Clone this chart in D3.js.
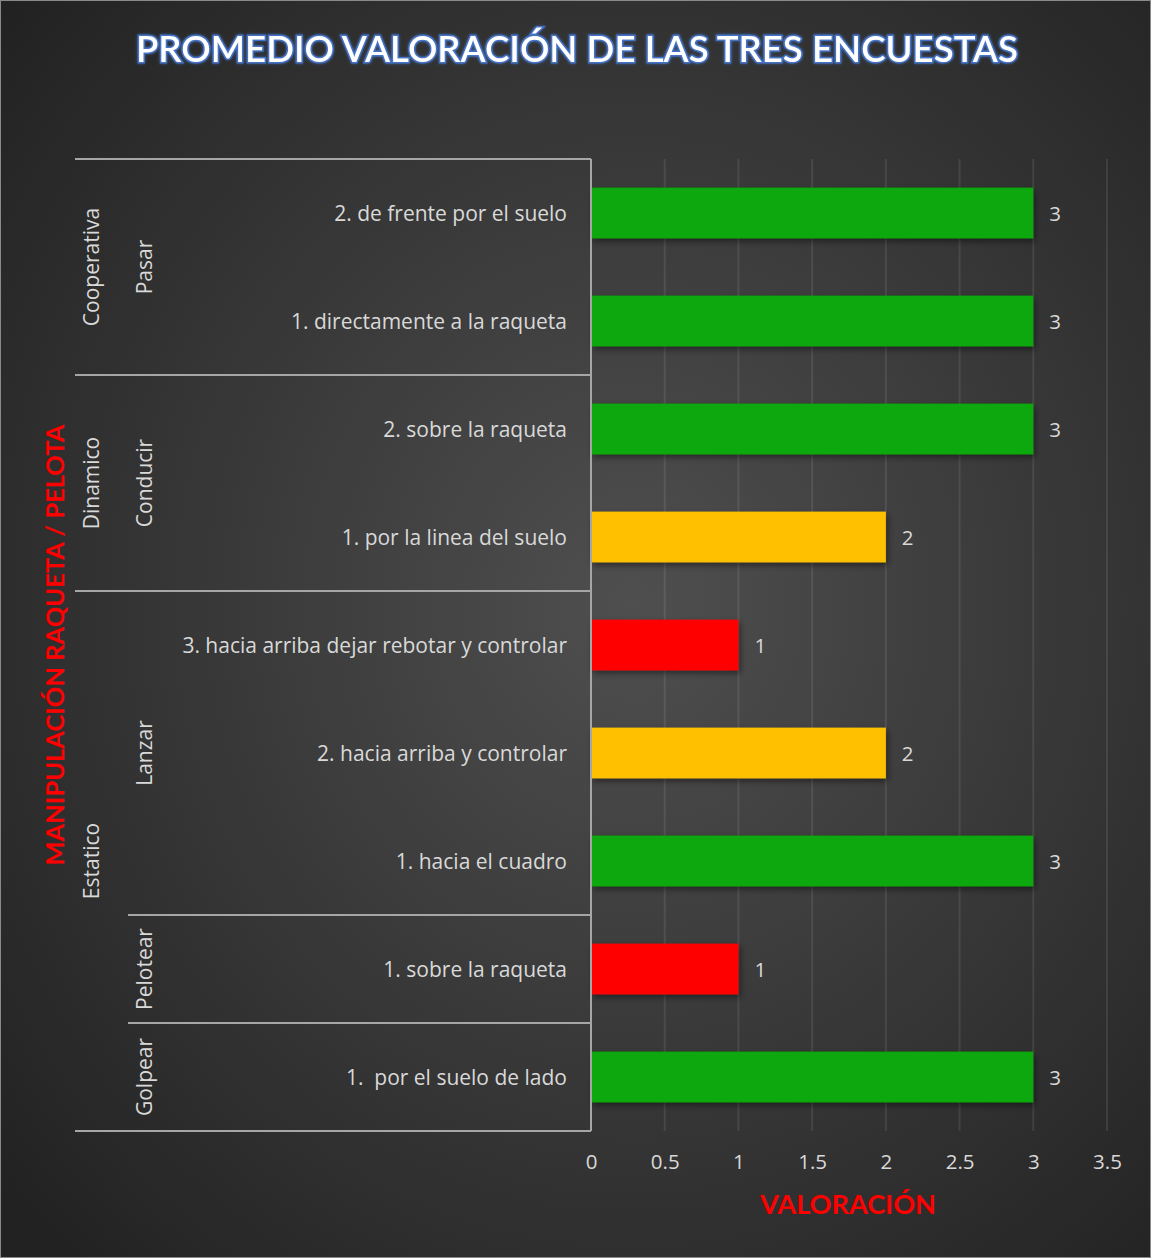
<!DOCTYPE html>
<html><head><meta charset="utf-8">
<script src="https://cdn.jsdelivr.net/npm/d3@7"></script>
<style>body{margin:0;background:#222}svg{display:block}text{white-space:pre}</style>
</head><body>
<script>
const title = "PROMEDIO VALORACIÓN DE LAS TRES ENCUESTAS";
const xTitle = "VALORACIÓN";
const yTitle = "MANIPULACIÓN RAQUETA / PELOTA";
const items = ["2. de frente por el suelo", "1. directamente a la raqueta", "2. sobre la raqueta", "1. por la linea del suelo", "3. hacia arriba dejar rebotar y controlar", "2. hacia arriba y controlar", "1. hacia el cuadro", "1. sobre la raqueta", "1.  por el suelo de lado"];
const actions = ["Pasar", "Pasar", "Conducir", "Conducir", "Lanzar", "Lanzar", "Lanzar", "Pelotear", "Golpear"];
const groups = ["Cooperativa", "Cooperativa", "Dinamico", "Dinamico", "Estatico", "Estatico", "Estatico", "Estatico", "Estatico"];
const values = [3, 3, 3, 2, 1, 2, 3, 1, 3];
const tickValues = [0, 0.5, 1, 1.5, 2, 2.5, 3, 3.5];
const tickLabels = ["0", "0.5", "1", "1.5", "2", "2.5", "3", "3.5"];

const W = 1151, H = 1258;
const font = "'Open Sans', Lato, sans-serif";
const tfont = "Lato, 'Open Sans', sans-serif";
const textCol = "#d9d9d9";
const colorFor = v => v >= 3 ? "#10a80d" : v >= 2 ? "#ffc000" : "#ff0000";

const svg = d3.select("body").append("svg").attr("width", W).attr("height", H);
const defs = svg.append("defs");
const rg = defs.append("radialGradient").attr("id", "bg").attr("cx", "55%").attr("cy", "48%").attr("r", "72%");
rg.append("stop").attr("offset", "0%").attr("stop-color", "#4f4f4f");
rg.append("stop").attr("offset", "100%").attr("stop-color", "#222222");
const sh = defs.append("filter").attr("id", "sh").attr("x", "-10%").attr("y", "-30%").attr("width", "130%").attr("height", "180%");
sh.append("feDropShadow").attr("dx", 2).attr("dy", 3).attr("stdDeviation", 3).attr("flood-color", "#000").attr("flood-opacity", 0.45);
const glow = defs.append("filter").attr("id", "glow").attr("x", "-5%").attr("y", "-30%").attr("width", "110%").attr("height", "160%");
glow.append("feGaussianBlur").attr("in", "SourceAlpha").attr("stdDeviation", 1.5).attr("result", "b");
glow.append("feFlood").attr("flood-color", "#4472c4").attr("flood-opacity", 0.8);
glow.append("feComposite").attr("in2", "b").attr("operator", "in").attr("result", "g");
const fm = glow.append("feMerge");
fm.append("feMergeNode").attr("in", "g");
fm.append("feMergeNode").attr("in", "SourceGraphic");

svg.append("rect").attr("x", 0.5).attr("y", 0.5).attr("width", W - 1).attr("height", H - 1)
  .attr("fill", "url(#bg)").attr("stroke", "#8a8a8a").attr("stroke-width", 1);

const x = d3.scaleLinear().domain([0, 3.5]).range([591, 1107]);
const y = d3.scaleBand().domain(d3.range(items.length)).range([159, 1131]).paddingInner(0.53).paddingOuter(0.265);
const step = y.step(), top0 = y.range()[0], bottom = y.range()[1];

// gridlines
svg.append("g").selectAll("line").data(tickValues.slice(1)).join("line")
  .attr("x1", d => x(d)).attr("x2", d => x(d)).attr("y1", top0).attr("y2", bottom)
  .attr("stroke", "#ffffff").attr("stroke-opacity", 0.09).attr("stroke-width", 2);

// x axis labels
const xAxis = d3.axisBottom(x).tickValues(tickValues).tickFormat((d, i) => tickLabels[i]).tickSize(0).tickPadding(23);
const gx = svg.append("g").attr("transform", `translate(0,${bottom})`).call(xAxis);
gx.select(".domain").remove();
gx.selectAll("text").attr("fill", textCol).style("font-family", font).style("font-size", "20.5px");

// bars
svg.append("g").selectAll("rect").data(values).join("rect")
  .attr("x", x(0)).attr("y", (d, i) => y(i)).attr("width", d => x(d) - x(0)).attr("height", y.bandwidth())
  .attr("fill", d => colorFor(d)).attr("filter", "url(#sh)");

// value labels
svg.append("g").selectAll("text").data(values).join("text")
  .attr("x", d => x(d) + 16).attr("y", (d, i) => y(i) + y.bandwidth() / 2).attr("dy", "0.38em")
  .attr("fill", textCol).style("font-family", font).style("font-size", "20.5px").text(d => d);

// item labels
svg.append("g").selectAll("text").data(items).join("text")
  .attr("x", 567).attr("y", (d, i) => y(i) + y.bandwidth() / 2).attr("dy", "0.38em")
  .attr("text-anchor", "end").attr("fill", textCol).style("font-family", font).style("font-size", "21px").text(d => d);

// hierarchical spans
function spans(arr) {
  const out = [];
  arr.forEach((v, i) => {
    if (i > 0 && arr[i - 1] === v && (arr !== actions || groups[i - 1] === groups[i])) out[out.length - 1].end = i;
    else out.push({ name: v, start: i, end: i });
  });
  return out;
}
const gSpans = spans(groups), aSpans = spans(actions);
const lineCol = "#a6a6a6";
const lines = svg.append("g").attr("stroke", lineCol).attr("stroke-width", 2);
lines.append("line").attr("x1", 591).attr("x2", 591).attr("y1", top0).attr("y2", bottom);
const gBounds = new Set([0]);
gSpans.forEach(s => gBounds.add(s.end + 1));
const aBounds = new Set();
aSpans.forEach(s => { if (!gBounds.has(s.end + 1)) aBounds.add(s.end + 1); });
gBounds.forEach(b => lines.append("line").attr("x1", 75).attr("x2", 591).attr("y1", top0 + b * step).attr("y2", top0 + b * step));
aBounds.forEach(b => lines.append("line").attr("x1", 128).attr("x2", 591).attr("y1", top0 + b * step).attr("y2", top0 + b * step));

function vLabel(list, cx) {
  svg.append("g").selectAll("text").data(list).join("text")
    .attr("transform", d => `translate(${cx},${top0 + (d.start + d.end + 1) / 2 * step}) rotate(-90)`)
    .attr("text-anchor", "middle").attr("dy", "0.35em").attr("fill", textCol)
    .style("font-family", font).style("font-size", "21px").text(d => d.name);
}
vLabel(gSpans, 92);
vLabel(aSpans, 145);

// titles
svg.append("text").attr("x", 577).attr("y", 62).attr("text-anchor", "middle")
  .attr("textLength", 882).attr("lengthAdjust", "spacingAndGlyphs")
  .style("font-family", tfont).style("font-size", "37px").style("font-weight", "600")
  .attr("fill", "#ffffff").attr("stroke", "#4472c4").attr("stroke-width", 3).attr("paint-order", "stroke")
  .attr("filter", "url(#glow)").text(title);

svg.append("text").attr("x", 848).attr("y", 1214).attr("text-anchor", "middle")
  .attr("textLength", 176).attr("lengthAdjust", "spacingAndGlyphs")
  .style("font-family", tfont).style("font-size", "26px").style("font-weight", "bold")
  .attr("fill", "#ff0000").text(xTitle);

svg.append("text").attr("transform", "translate(55,645) rotate(-90)").attr("text-anchor", "middle").attr("dy", "0.35em")
  .attr("textLength", 441).attr("lengthAdjust", "spacingAndGlyphs")
  .style("font-family", tfont).style("font-size", "25px").style("font-weight", "bold")
  .attr("fill", "#ff0000").text(yTitle);
</script>
</body></html>
